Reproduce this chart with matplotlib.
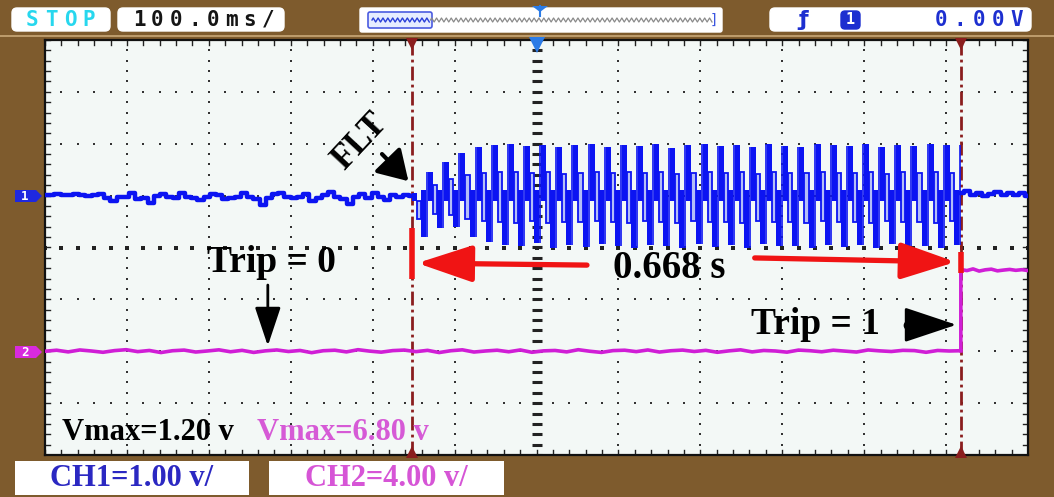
import numpy as np
import matplotlib.pyplot as plt
from matplotlib.patches import FancyBboxPatch, Rectangle, Polygon

# ---------------- scope settings ----------------
time_per_div = 0.1          # s / div
ch1_volts_per_div = 1.0     # V / div
ch2_volts_per_div = 4.0     # V / div
ch1_ground_div = 1.0        # channel 1 marker position (div above centre)
ch2_ground_div = -2.0       # channel 2 marker position (div below centre)
screen_start = -3.088       # s, left edge of the record on screen
cur_a = -2.64               # s, fault instant
cur_b = -1.97               # s, trip instant

# ---------------- channel 1 (fault current sensor) ----------------
ch1_pre = [0.02, 0.02, 0.03, 0.01, 0.02, 0.03, 0.02, 0.00, 0.02, 0.03,
           -0.04, -0.10, -0.02, -0.03, 0.05, -0.06, -0.05, -0.14, 0.00, 0.03,
           -0.02, -0.04, 0.06, -0.03, -0.05, -0.08, -0.03, 0.04, 0.02, -0.07,
           -0.04, -0.02, 0.05, -0.03, -0.06, -0.18, -0.04, 0.03, 0.06, -0.02,
           -0.05, -0.03, 0.03, -0.10, -0.04, 0.02, 0.07, -0.03, -0.06, -0.16,
           -0.02, 0.03, -0.04, 0.05, -0.03, -0.08, 0.02, -0.02, 0.01, -0.01]
ch1_post = [0.06, 0.08, 0.02, 0.05, -0.01, 0.04, 0.07, 0.01, 0.05, 0.02, 0.06, 0.00]

# per-cycle levels of the oscillation between the cursors (V)
ch1_fault_top = [0.05, 0.46, 0.65, 0.83, 0.94, 0.98, 1.00, 0.95, 0.98, 0.93,
                 0.97, 1.00, 0.94, 0.98, 0.96, 0.99, 0.92, 0.97, 1.00, 0.95,
                 0.98, 0.93, 0.99, 0.96, 0.94, 1.00, 0.97, 0.95, 0.99, 0.93,
                 0.98, 0.96, 1.00, 0.97]
ch1_fault_upper = [-0.10, 0.20, 0.32, 0.40, 0.44, 0.45, 0.46, 0.43, 0.45, 0.42,
                   0.44, 0.46, 0.43, 0.45, 0.44, 0.46, 0.42, 0.44, 0.46, 0.43,
                   0.45, 0.42, 0.46, 0.44, 0.43, 0.46, 0.44, 0.43, 0.46, 0.42,
                   0.45, 0.44, 0.46, 0.44]
ch1_fault_lower = [-0.45, -0.35, -0.38, -0.45, -0.48, -0.50, -0.52, -0.48, -0.52, -0.50,
                   -0.51, -0.48, -0.50, -0.52, -0.49, -0.50, -0.52, -0.48, -0.51, -0.50,
                   -0.52, -0.48, -0.50, -0.51, -0.52, -0.49, -0.51, -0.50, -0.52, -0.48,
                   -0.50, -0.51, -0.52, -0.49]
ch1_fault_bottom = [-0.80, -0.62, -0.60, -0.79, -0.90, -0.95, -0.98, -0.92, -1.00, -0.96,
                    -0.99, -0.93, -0.98, -1.00, -0.95, -0.97, -1.00, -0.94, -0.99, -0.96,
                    -1.00, -0.93, -0.98, -0.97, -1.00, -0.95, -0.99, -0.96, -1.00, -0.94,
                    -0.98, -0.97, -1.00, -0.95]

# ---------------- channel 2 (trip signal) ----------------
ch2_pre = [0.00, 0.08, -0.05, 0.10, 0.02, -0.08, 0.05, 0.12, -0.03, 0.06,
           -0.10, 0.04, 0.09, -0.06, 0.02, 0.11, -0.04, 0.07, -0.09, 0.03,
           0.10, -0.02, 0.06, -0.11, 0.04, 0.08, -0.05, 0.12, 0.01, -0.07,
           0.05, 0.09, -0.03, 0.07, -0.10, 0.04, 0.11, -0.06, 0.02, 0.08,
           -0.04, 0.10, -0.08, 0.03, 0.06, -0.05, 0.12, 0.00, -0.09, 0.05,
           0.08, -0.03, 0.10, -0.06, 0.04, 0.09, -0.02, 0.07, -0.08, 0.03,
           0.11, -0.05, 0.06, 0.02, -0.07, 0.09, 0.04, -0.04, 0.08, 0.01,
           -0.06, 0.10, 0.03, -0.02, 0.07, 0.05, -0.08, 0.06, 0.02, 0.04]
ch2_post = [6.30, 6.22, 6.35, 6.18, 6.28, 6.33, 6.20, 6.26, 6.31, 6.24, 6.29, 6.22]

labels_ch = ["CH1=1.00 v/", "CH2=4.00 v/"]
labels_vmax = ["Vmax=1.20 v", "Vmax=6.80 v"]
readouts = ["CurA=-2.64s", "CurB=-1.97s", "\u00a6\u0394X\u00a6=668ms", "1/\u00a6\u0394X\u00a6=1.497Hz"]

# ---------------- colours ----------------
BROWN = "#7E5B2D"
SCREEN = "#F3F8F6"
BLUE = "#0C14F2"
BLUE_FILL = "#B4BEF8"
MAGENTA = "#D01ED6"
CURSOR = "#8A1E1E"
RED = "#F01414"
TAN = "#F8D7B2"
SERIF = "Liberation Serif"
MONO = "DejaVu Sans Mono"

W, H = 1054, 497
fig = plt.figure(figsize=(W / 100, H / 100), dpi=100, facecolor=BROWN)

# full-figure pixel axes for the instrument frame
bg = fig.add_axes([0, 0, 1, 1])
bg.set_xlim(0, W)
bg.set_ylim(H, 0)
bg.set_axis_off()

# screen axes in time / divisions
sx0, sx1, sy0, sy1 = 45, 1028, 40, 455
scr = fig.add_axes([sx0 / W, 1 - sy1 / H, (sx1 - sx0) / W, (sy1 - sy0) / H])
t0, t1 = screen_start, screen_start + 12 * time_per_div
scr.set_xlim(t0, t1)
scr.set_ylim(-4, 4)
scr.set_facecolor(SCREEN)
for sp in scr.spines.values():
    sp.set_color("#111111")
    sp.set_linewidth(1.6)
scr.set_xticks([])
scr.set_yticks([])


def mono(ax, text, x, y, pitch, **kw):
    for i, ch in enumerate(text):
        ax.text(x + i * pitch, y, ch, ha="center", va="center", family=MONO,
                fontweight="bold", **kw)


def box(ax, x0, y0, x1, y1, fc="white", ec="white", r=5, lw=1.0, z=2):
    ax.add_patch(FancyBboxPatch((x0, y0), x1 - x0, y1 - y0,
                                boxstyle=f"round,pad=0,rounding_size={r}",
                                fc=fc, ec=ec, lw=lw, zorder=z))


# ---------- top status bar ----------
bg.plot([0, W], [35.5, 35.5], color="#C9A878", lw=1.2, zorder=1)
box(bg, 12, 8, 110, 31)
mono(bg, "STOP", 32, 19.5, 19, color="#27D7EE", fontsize=15)
box(bg, 118, 8, 284, 31)
mono(bg, "100.0ms/", 139, 19.5, 18.5, color="#151515", fontsize=15)
box(bg, 360, 8, 722, 32, r=2)
bg.add_patch(FancyBboxPatch((368, 12), 64, 16, boxstyle="round,pad=0,rounding_size=2",
                            fc="#E6ECFF", ec="#4A5BE0", lw=1.2, zorder=3))
zig = np.tile([0.0, -2.0, 0.0, 2.0], 70)
zx = np.linspace(372, 712, zig.size)
bg.plot(zx[zx < 430], 20 + zig[zx < 430], color="#2A3FD8", lw=1.0, zorder=4)
bg.plot(zx[zx >= 430], 20 + zig[zx >= 430], color="#8A8A8A", lw=0.9, zorder=4)
bg.text(714, 20, "]", color="#3A55E0", fontsize=10, ha="center", va="center", family=MONO)
bg.add_patch(Polygon([[532, 6], [548, 6], [540, 12]], closed=True, fc="#2B7BE6", ec="none", zorder=5))
bg.plot([540, 540], [6, 16], color="#2B7BE6", lw=1.5, zorder=5)
box(bg, 770, 8, 1031, 31)
bg.text(803, 20, "\u0192", color="#1D2FD0", fontsize=16, fontweight="bold", ha="center",
        va="center", family="DejaVu Sans")
box(bg, 841, 11, 860, 29, fc="#1D2FD0", ec="#1D2FD0", r=4, z=3)
bg.text(850.5, 20, "1", color="white", fontsize=11, fontweight="bold", ha="center",
        va="center", family=MONO, zorder=4)
mono(bg, "0.00V", 941, 19.5, 19, color="#1D2FD0", fontsize=15)

# ---------- bottom channel boxes ----------
bg.add_patch(Rectangle((15, 461), 234, 34, fc="white", ec="none", zorder=2))
bg.add_patch(Rectangle((269, 461), 235, 34, fc="white", ec="none", zorder=2))
bg.text(132, 478, labels_ch[0], color="#2B28C2", fontsize=22, fontweight="bold",
        family=SERIF, ha="center", va="center", zorder=3)
bg.text(386, 478, labels_ch[1], color="#D655D6", fontsize=22, fontweight="bold",
        family=SERIF, ha="center", va="center", zorder=3)

# ---------- channel ground tags on the left ----------
for yp, col, lab in [(196, "#1E28E0", "1"), (352, "#D82ADE", "2")]:
    bg.add_patch(Polygon([[15, yp - 6], [36, yp - 6], [42, yp], [36, yp + 6], [15, yp + 6]],
                         closed=True, fc=col, ec="none", zorder=3))
    bg.text(25, yp, lab, color="white", fontsize=9, fontweight="bold", family=MONO,
            ha="center", va="center", zorder=4)

# trigger level arrow at the right
bg.add_patch(Polygon([[1008, 57], [1020, 57], [1028, 62], [1020, 67], [1008, 67]],
                     closed=True, fc="#2B7BE6", ec="none", zorder=6))

# ---------- graticule ----------
minor_x = t0 + np.arange(0, 12.001, 0.2) * time_per_div
minor_y = np.arange(-4, 4.001, 0.2)
for k in range(1, 12):
    if k == 6:
        continue
    xv = t0 + k * time_per_div
    scr.plot(np.full(minor_y.size, xv), minor_y, ls="none", marker="s", ms=2.0,
             color="#333333", mew=0, zorder=1)
for k in range(-3, 4):
    if k == 0:
        continue
    scr.plot(minor_x, np.full(minor_x.size, k), ls="none", marker="s", ms=2.0,
             color="#333333", mew=0, zorder=1)
# centre lines
xc = t0 + 6 * time_per_div
scr.plot(np.full(minor_y.size, xc), minor_y, ls="none", marker="_", ms=7, mew=2.2,
         color="#222222", zorder=1)
scr.plot(minor_x, np.zeros(minor_x.size), ls="none", marker="s", ms=3.4, mew=0,
         color="#222222", zorder=1)
# border ticks
for yv in minor_y:
    for xe, d in [(t0, 1), (t1, -1)]:
        scr.plot([xe, xe + d * 0.06 * time_per_div], [yv, yv], color="#222222", lw=1.0, zorder=2)
for xv in minor_x:
    for ye, d in [(4, -1), (-4, 1)]:
        scr.plot([xv, xv], [ye, ye + d * 0.09], color="#222222", lw=1.0, zorder=2)

# ---------- cursors ----------
for tc in (cur_a, cur_b):
    scr.plot([tc, tc], [-4, 4], color=CURSOR, lw=2.0, ls=(0, (5, 1.5, 1, 1.5)), zorder=3)
    scr.plot([tc], [3.93], marker="v", ms=9, color=CURSOR, mew=0, zorder=4, clip_on=False)
    scr.plot([tc], [-3.95], marker="^", ms=8, color=CURSOR, mew=0, zorder=4, clip_on=False)
scr.plot([xc], [3.9], marker="v", ms=12, color="#2B7BE6", mew=0, zorder=4, clip_on=False)


# ---------- traces ----------
def ch1(v):
    return ch1_ground_div + np.asarray(v, dtype=float) / ch1_volts_per_div


def ch2(v):
    return ch2_ground_div + np.asarray(v, dtype=float) / ch2_volts_per_div


t_pre1 = np.linspace(t0, cur_a, len(ch1_pre))
t_post1 = np.linspace(cur_b, t1, len(ch1_post))
scr.plot(t_pre1, ch1(ch1_pre), color=BLUE, lw=3.2, drawstyle="steps-mid", zorder=5)
scr.plot(t_post1, ch1(ch1_post), color=BLUE, lw=3.2, drawstyle="steps-mid", zorder=5)

# oscillation between the cursors: each cycle is drawn as display columns
n_cyc = len(ch1_fault_top)
period = (cur_b - cur_a) / n_cyc
solid_w = 0.31 * period
hollow_w = 0.26 * period
t_cyc = cur_a + np.arange(n_cyc) * period
top_v = ch1(ch1_fault_top)
up_v = ch1(ch1_fault_upper)
lo_v = ch1(ch1_fault_lower)
bot_v = ch1(ch1_fault_bottom)
zero_v = ch1(np.zeros(n_cyc))
# falling column: peak down to just below the ground level
scr.bar(t_cyc, top_v - zero_v + 0.1, bottom=zero_v - 0.1, width=solid_w, align="edge",
        color=BLUE, lw=0, zorder=5)
# middle column: hollow step between the inner levels
scr.bar(t_cyc + solid_w, up_v - lo_v, bottom=lo_v, width=hollow_w, align="edge",
        color=BLUE_FILL, edgecolor=BLUE, lw=1.3, zorder=5)
# lower column: just above the ground level down to the trough
scr.bar(t_cyc + solid_w + hollow_w, zero_v - bot_v + 0.1, bottom=bot_v, width=solid_w,
        align="edge", color=BLUE, lw=0, zorder=5)
# thin return stroke to the next peak
scr.vlines(t_cyc + 2 * solid_w + hollow_w + 0.06 * period, bot_v,
           np.r_[top_v[1:], top_v[-1]], color=BLUE, lw=1.2, zorder=5)

t_pre2 = np.linspace(t0, cur_b, len(ch2_pre))
t_post2 = np.linspace(cur_b, t1, len(ch2_post))
scr.plot(t_pre2, ch2(ch2_pre), color=MAGENTA, lw=2.6, zorder=5)
scr.plot(np.r_[cur_b, t_post2], ch2(np.r_[ch2_pre[-1], ch2_post]), color=MAGENTA, lw=2.6, zorder=5)

# ---------- cursor readouts ----------
for i, txt in enumerate(readouts):
    y0 = 57 + i * 22
    box(bg, 719, y0, 1005, y0 + 20, fc=TAN, ec="#5E3F22", r=6, lw=1.2, z=6)
    mono(bg, txt, 732, y0 + 10.5, 19.2, color="#1A1A1A", fontsize=14, zorder=7)

# ---------- annotations ----------
bold = dict(family=SERIF, fontweight="bold")
scr.text(-2.703, 2.03, "FLT", rotation=47, fontsize=25, ha="center", va="center",
         color="black", zorder=8, **bold)
scr.annotate("", xy=(cur_a - 0.002, 1.24), xytext=(-2.679, 1.84),
             arrowprops=dict(arrowstyle="-|>,head_length=0.9,head_width=0.55", lw=3,
                             color="black", mutation_scale=20), zorder=8)

scr.text(-2.811, -0.28, "Trip = 0", fontsize=27, ha="center", va="center", zorder=8, **bold)
scr.annotate("", xy=(-2.816, ch2_ground_div + 0.05), xytext=(-2.816, -0.67),
             arrowprops=dict(arrowstyle="-|>,head_length=1.2,head_width=0.4", lw=2.0,
                             color="black", mutation_scale=20), zorder=8)

scr.text(-2.147, -1.49, "Trip = 1", fontsize=27, ha="center", va="center", zorder=8, **bold)
scr.annotate("", xy=(cur_b - 0.002, -1.49), xytext=(-2.034, -1.49),
             arrowprops=dict(arrowstyle="-|>,head_length=1.5,head_width=0.5", lw=2.0,
                             color="black", mutation_scale=22), zorder=8)
scr.plot([-2.034], [-1.49], marker="o", ms=6, color="black", zorder=8)

scr.text(-2.326, -0.40, "0.668 s", fontsize=28, ha="center", va="center", zorder=8, **bold)
scr.annotate("", xy=(cur_a + 0.003, -0.30), xytext=(-2.423, -0.34),
             arrowprops=dict(arrowstyle="-|>,head_length=1.35,head_width=0.45", lw=3.8,
                             color=RED, mutation_scale=25), zorder=7)
scr.annotate("", xy=(cur_b - 0.003, -0.28), xytext=(-2.225, -0.20),
             arrowprops=dict(arrowstyle="-|>,head_length=1.35,head_width=0.45", lw=3.8,
                             color=RED, mutation_scale=25), zorder=7)
scr.plot([cur_a, cur_a], [0.38, -0.6], color=RED, lw=4.0, solid_capstyle="butt", zorder=7)
scr.plot([cur_b, cur_b], [-0.08, -0.5], color=RED, lw=4.0, solid_capstyle="butt", zorder=7)

scr.text(-2.962, -3.57, labels_vmax[0], fontsize=22, ha="center", va="center",
         color="black", zorder=8, **bold)
scr.text(-2.724, -3.57, labels_vmax[1], fontsize=22, ha="center", va="center",
         color="#D65AD6", zorder=8, **bold)

fig.savefig("out.png", dpi=100, facecolor=BROWN)
